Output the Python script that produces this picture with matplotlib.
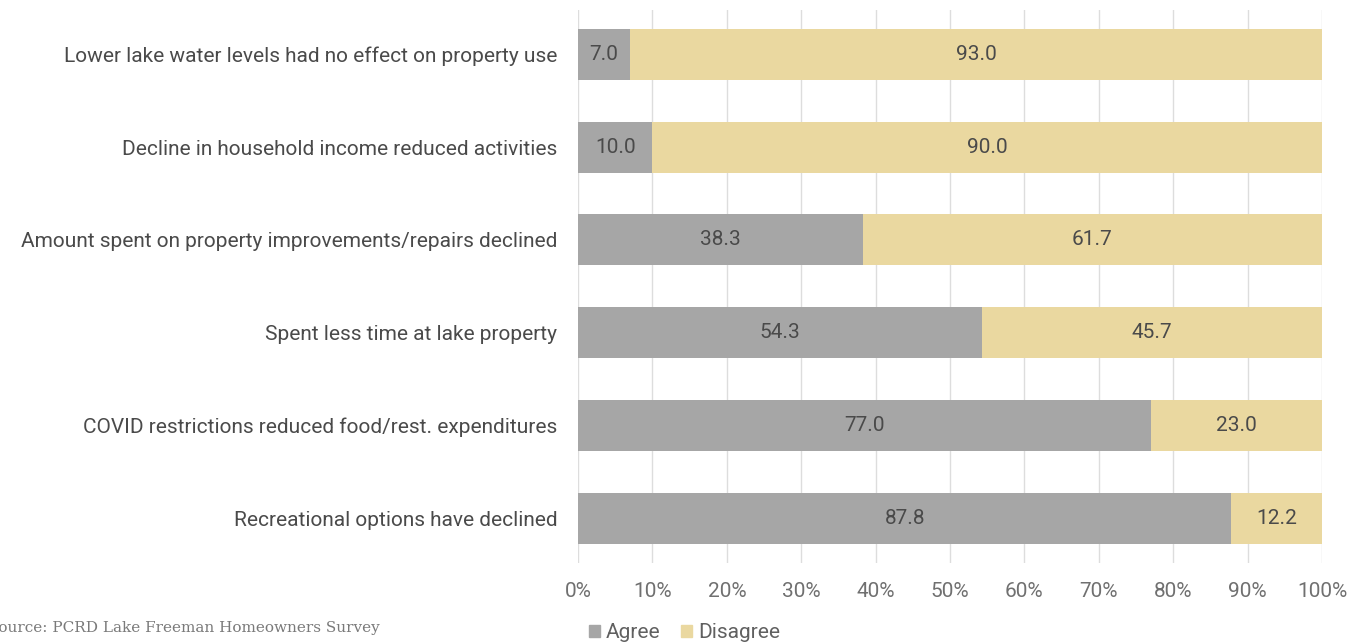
import matplotlib
matplotlib.use("Agg")
import matplotlib.pyplot as plt
from matplotlib.patches import Patch

categories = [
    "Lower lake water levels had no effect on property use",
    "Decline in household income reduced activities",
    "Amount spent on property improvements/repairs declined",
    "Spent less time at lake property",
    "COVID restrictions reduced food/rest. expenditures",
    "Recreational options have declined",
]
agree = [7.0, 10.0, 38.3, 54.3, 77.0, 87.8]
disagree = [93.0, 90.0, 61.7, 45.7, 23.0, 12.2]
xticks = [0, 10, 20, 30, 40, 50, 60, 70, 80, 90, 100]

AGREE_C = "#a6a6a6"
DISAGREE_C = "#ead8a0"
TEXT_C = "#4a4a4a"

plt.rcParams["font.family"] = ["Roboto", "DejaVu Sans"]

fig = plt.figure(figsize=(13.64, 6.43), dpi=100)
ax = fig.add_axes([0.4238, 0.1244, 0.5454, 0.86])

y = list(range(len(categories)))
h = 0.55
ax.barh(y, agree, height=h, color=AGREE_C, zorder=3)
ax.barh(y, disagree, left=agree, height=h, color=DISAGREE_C, zorder=3)

for i, (a, d) in enumerate(zip(agree, disagree)):
    ax.text(a / 2, i, f"{a:.1f}", ha="center", va="center", fontsize=15, color=TEXT_C, zorder=4)
    ax.text(a + d / 2, i, f"{d:.1f}", ha="center", va="center", fontsize=15, color=TEXT_C, zorder=4)

ax.set_xlim(0, 100)
ax.set_ylim(len(categories) - 1 + 0.485, -0.48)
ax.set_xticks(xticks)
ax.set_xticklabels([f"{t}%" for t in xticks], fontsize=15, color="#707070")
ax.set_yticks(y)
ax.set_yticklabels(categories, fontsize=15, color=TEXT_C)
ax.tick_params(axis="both", length=0)
ax.tick_params(axis="y", pad=15)
ax.tick_params(axis="x", pad=14)
ax.grid(axis="x", color="#dddddd", linewidth=1, zorder=0)
for s in ax.spines.values():
    s.set_visible(False)

handles = [Patch(color=AGREE_C, label="Agree"), Patch(color=DISAGREE_C, label="Disagree")]
fig.legend(handles=handles, loc="center", bbox_to_anchor=(0.502, 0.016), ncol=2, frameon=False,
           fontsize=15, handlelength=0.5, handleheight=0.5, handletextpad=0.3, columnspacing=1.0,
           labelcolor="#606060")

fig.text(-0.009, 0.024, "Source: PCRD Lake Freeman Homeowners Survey", fontsize=11,
         family=["DejaVu Serif"], color="#7a7a7a", va="center")

fig.savefig("out.png", dpi=100)
